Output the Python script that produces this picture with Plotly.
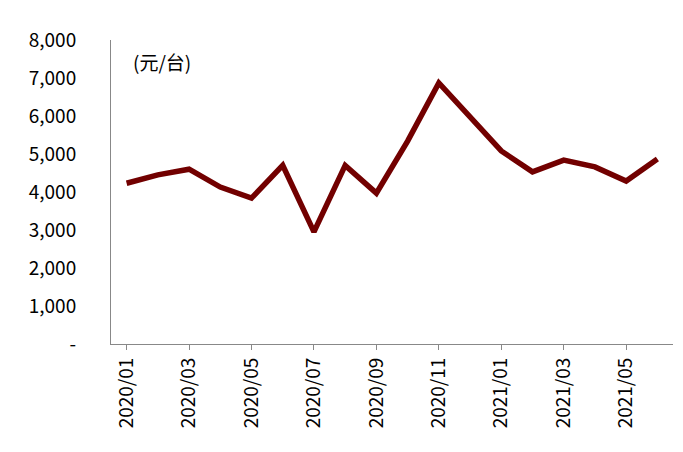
import plotly.graph_objects as go

months = ["2020/01","2020/02","2020/03","2020/04","2020/05","2020/06","2020/07","2020/08","2020/09",
          "2020/10","2020/11","2020/12","2021/01","2021/02","2021/03","2021/04","2021/05","2021/06"]
values = [4230,4450,4600,4130,3840,4700,2950,4700,3970,5340,6870,5970,5080,4530,4840,4660,4290,4870]
tick_labels = months[::2]
y_ticks = [0,1000,2000,3000,4000,5000,6000,7000,8000]
y_labels = ["-","1,000","2,000","3,000","4,000","5,000","6,000","7,000","8,000"]

fig = go.Figure(go.Scatter(x=months, y=values, mode="lines",
                           line=dict(color="#720000", width=5.5)))
fig.update_layout(
    width=683, height=452, margin=dict(l=103, r=18, t=32, b=116, autoexpand=False),
    plot_bgcolor="white", paper_bgcolor="white", showlegend=False,
    font=dict(family="Noto Sans CJK SC", size=19, color="black"),
    xaxis=dict(type="category", tickvals=tick_labels, ticktext=tick_labels, tickangle=-90,
               showline=True, linecolor="#888", ticks="outside", ticklen=5, tickcolor="#888",
               showgrid=False, range=[-0.5, 17.5], automargin=False),
    yaxis=dict(range=[0, 8000], tickvals=y_ticks, ticktext=y_labels, showline=True,
               linecolor="#888", showgrid=False, zeroline=False, ticks="", ticklabelstandoff=30,
               automargin=False),
    annotations=[dict(text="(元/台)", x=0.035, y=0.98, xref="paper", yref="paper",
                      showarrow=False, xanchor="left", yanchor="top", font=dict(size=19))],
)
fig.write_html("out.html")
